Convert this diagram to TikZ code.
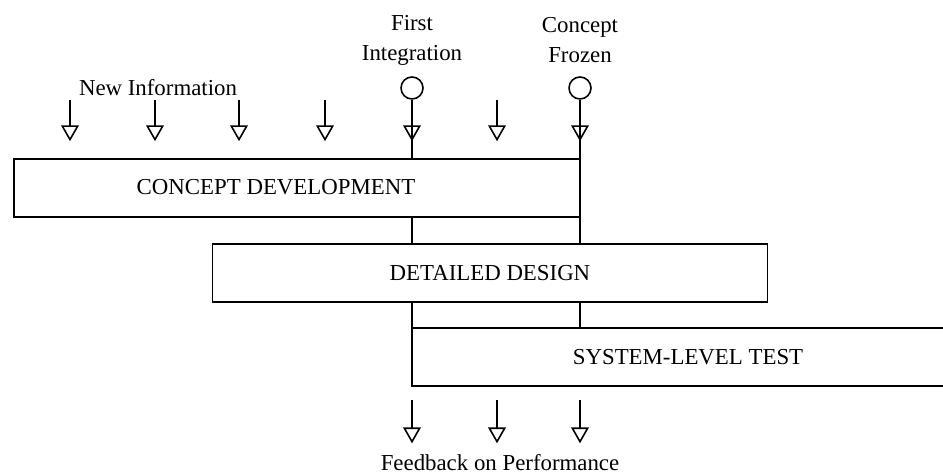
\documentclass[tikz,border=0pt]{standalone}
\usepackage{fontspec}
\setmainfont{Liberation Serif}
\usetikzlibrary{arrows.meta, positioning}

\begin{document}
\begin{tikzpicture}[
  x=0.02cm, y=-0.02cm, line width=0.9pt,
  phase/.style={draw, minimum height=1.16cm, inner sep=0pt},
  txt/.style={align=center, inner sep=1pt, font=\fontsize{13}{17}\selectfont},
  mstone/.style={draw, circle, minimum size=0.44cm, inner sep=0pt},
  flow/.style={-{Triangle[open, width=10pt, length=9pt]}}
]
  \useasboundingbox (0,0) rectangle (943,475);

  % milestones
  \node[txt] (fitxt) at (412,40) {First\\Integration};
  \node[txt] (cftxt) at (580,40) {Concept\\Frozen};
  \node[mstone] (fi) at (412,88) {};
  \node[mstone] (cf) at (580,88) {};
  \node[txt] (newinfo) at (158,88) {New Information};

  % phases
  \node[phase, minimum width=11.32cm] (cd) at (297,188) {};
  \node[txt] (cdtxt) at (276,187) {CONCEPT DEVELOPMENT};
  \node[phase, minimum width=11.1cm, font=\fontsize{13}{17}\selectfont] (dd) at (490,273) {DETAILED DESIGN};
  \node[phase, draw=none, outer sep=0pt, minimum width=10.96cm] (slt) at (686,357) {};
  \node[txt] (slttxt) at (688,357) {SYSTEM-LEVEL TEST};
  \draw (slt.north east) -- (slt.north west) -- (slt.south west) -- (slt.south east);

  % new information
  \foreach \x [count=\i] in {70,155,239,325,497}{
    \coordinate (in\i) at (\x,100);
    \draw[flow, shorten >=0.34cm] (in\i) -- (in\i |- cd.north);
  }
  \draw (fi) -- (fi |- cd.north);
  \draw[flow, shorten >=0.34cm] (fi) -- (fi |- cd.north);
  \draw (cf) -- (cf |- cd.north);
  \draw[flow, shorten >=0.34cm] (cf) -- (cf |- cd.north);

  % overlaps between phases
  \draw (fi |- cd.south) -- (fi |- dd.north);
  \draw (cf |- cd.south) -- (cf |- dd.north);
  \draw (fi |- dd.south) -- (fi |- slt.north);
  \draw (cf |- dd.south) -- (cf |- slt.north);

  % feedback
  \node[txt] (fbtxt) at (500,463) {Feedback on Performance};
  \foreach \x [count=\i] in {412,497,580}{
    \coordinate (fb\i) at (\x,400);
    \draw[flow, shorten >=0.18cm] (fb\i) -- (fb\i |- fbtxt.north);
  }
\end{tikzpicture}
\end{document}
